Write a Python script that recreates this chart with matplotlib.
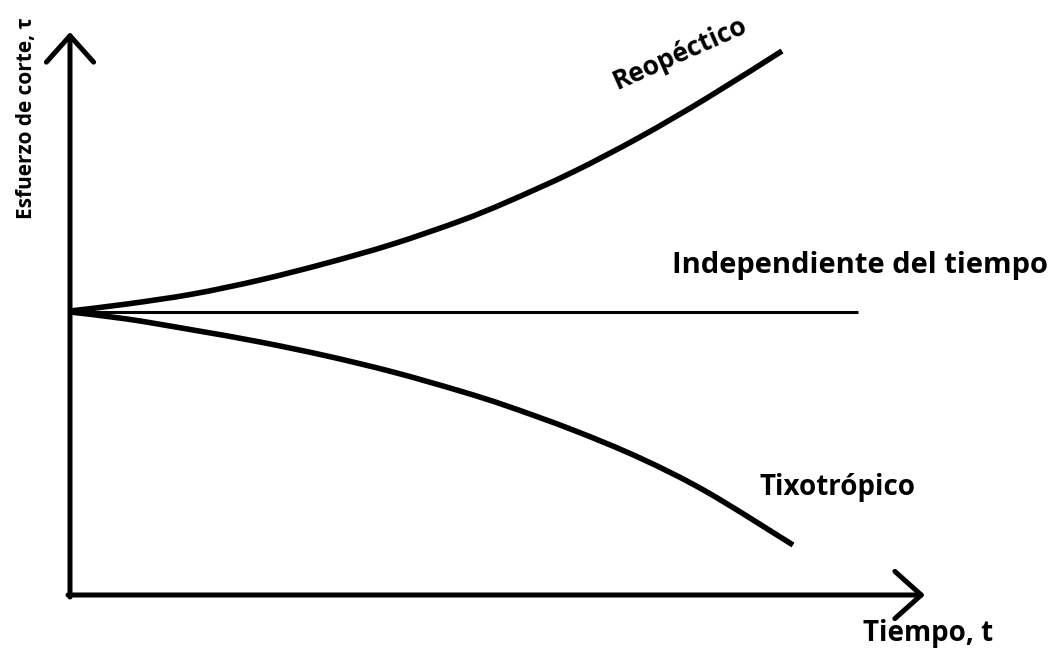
import matplotlib
matplotlib.use('Agg')
import matplotlib.pyplot as plt
from matplotlib.path import Path
from matplotlib.patches import PathPatch

# time / shear stress values (arbitrary units)
t_reo = [0, 0.57, 1.23, 1.90, 2.57, 3.23, 3.90, 4.37, 5.03, 5.70, 6.37, 7.12]
tau_reo = [2.84, 2.91, 3.01, 3.15, 3.32, 3.51, 3.74, 3.93, 4.23, 4.58, 4.97, 5.44]

t_tixo = [0, 0.57, 1.23, 1.90, 2.57, 3.23, 3.90, 4.37, 5.03, 5.70, 6.37, 7.23]
tau_tixo = [2.83, 2.76, 2.65, 2.53, 2.39, 2.23, 2.04, 1.89, 1.65, 1.37, 1.03, 0.50]

t_indep = [0, 7.88]
tau_indep = [2.83, 2.83]

t_max = 8.55
tau_max = 5.63

font = ['Open Sans', 'DejaVu Sans']


def smooth_path(xs, ys):
    # hand-drawn look: pass a cubic bezier through the read points
    pts = list(zip(xs, ys))
    verts = [pts[0]]
    codes = [Path.MOVETO]
    for i in range(len(pts) - 1):
        p0 = pts[i - 1] if i > 0 else pts[i]
        p1 = pts[i]
        p2 = pts[i + 1]
        p3 = pts[i + 2] if i + 2 < len(pts) else pts[i + 1]
        c1 = (p1[0] + (p2[0] - p0[0]) / 6, p1[1] + (p2[1] - p0[1]) / 6)
        c2 = (p2[0] - (p3[0] - p1[0]) / 6, p2[1] - (p3[1] - p1[1]) / 6)
        verts += [c1, c2, p2]
        codes += [Path.CURVE4] * 3
    return Path(verts, codes)


fig = plt.figure(figsize=(10.53, 6.55), dpi=100)
ax = fig.add_axes([0, 0, 1, 1])
ax.set_xlim(-0.70, 9.83)
ax.set_ylim(-0.60, 5.95)
ax.axis('off')

# curves
for xs, ys in [(t_reo, tau_reo), (t_tixo, tau_tixo)]:
    ax.add_patch(PathPatch(smooth_path(xs, ys), fill=False, lw=4.0,
                           edgecolor='black', capstyle='butt'))
ax.plot(t_indep, tau_indep, color='black', lw=2.2, solid_capstyle='butt')

# axes with open arrowheads
arrow = dict(arrowstyle='->,head_length=0.95,head_width=0.85', lw=3.6,
             color='black', shrinkA=0, shrinkB=0, mutation_scale=20)
ax.annotate('', xy=(0, tau_max), xytext=(0, -0.02), arrowprops=arrow)
ax.annotate('', xy=(t_max, 0), xytext=(-0.02, 0), arrowprops=arrow)

# labels
ax.text(6.10, 5.42, 'Reopéctico', family=font, weight='bold', fontsize=19,
        rotation=24, ha='center', va='center')
ax.text(6.02, 3.30, 'Independiente del tiempo', family=font, weight='bold',
        fontsize=21, ha='left', va='center')
ax.text(7.67, 1.07, 'Tixotrópico', family=font, weight='bold', fontsize=20,
        ha='center', va='center')
ax.text(8.58, -0.39, 'Tiempo, t', family=font, weight='bold', fontsize=20,
        ha='center', va='center')
ax.text(-0.43, 4.77, 'Esfuerzo de corte, τ', family=font, weight='bold',
        fontsize=15, rotation=90, ha='center', va='center')

fig.savefig('out.png', dpi=100)
